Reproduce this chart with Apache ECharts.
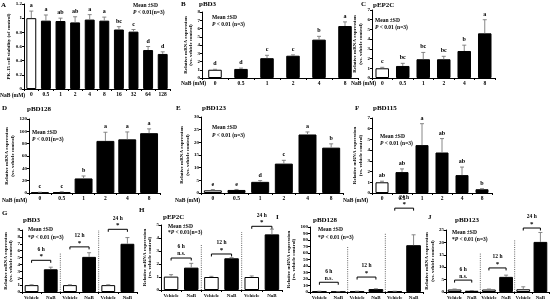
<!DOCTYPE html>
<html><head><meta charset="utf-8">
<script src="https://cdn.jsdelivr.net/npm/echarts/dist/echarts.min.js"></script>
<style>html,body{margin:0;padding:0;background:#fff}#c{width:550px;height:301px}</style>
</head><body><div id="c"></div>
<script>
// ---------- data ----------
const catsA = ['0','0.5','1','2','4','8','16','32','64','128'];
const valsA = [1.0, 0.965, 0.96, 0.94, 0.98, 0.965, 0.84, 0.81, 0.55, 0.495];
const errA  = [0.1, 0.08, 0.04, 0.08, 0.07, 0.05, 0.04, 0.03, 0.05, 0.03];
const sigA  = ['a','a','ab','ab','a','a','bc','c','d','d'];

const catsDose = ['0','0.5','1','2','4','8'];
const valsB = [1.0, 1.1, 2.4, 2.7, 4.65, 6.3];
const errB  = [0.05, 0.1, 0.35, 0.1, 0.4, 0.5];
const sigB  = ['d','d','c','c','b','a'];
const valsC = [1.0, 1.24, 1.93, 1.93, 2.78, 4.6];
const errC  = [0.1, 0.27, 0.7, 0.3, 0.6, 1.4];
const sigC  = ['c','bc','bc','bc','b','a'];
const valsD = [1.0, 1.5, 23.6, 84.5, 87, 97];
const errD  = [0.3, 0.5, 4, 14, 12, 7];
const sigD  = ['c','c','b','a','a','a'];
const valsE = [1.05, 1.2, 4.4, 11.6, 23.1, 17.9];
const errE  = [0.3, 0.2, 0.5, 1.3, 1.0, 1.5];
const sigE  = ['e','e','d','c','a','b'];
const valsF = [1.0, 1.95, 4.47, 3.78, 1.67, 0.35];
const errF  = [0.1, 0.3, 2.0, 1.3, 0.75, 0.05];
const sigF  = ['ab','ab','a','ab','ab','b'];

const catsTime = ['Vehicle','NaB','Vehicle','NaB','Vehicle','NaB'];
const valsG = [1.0, 3.3, 1.0, 5.1, 1.0, 7.0];
const errG  = [0.05, 0.3, 0.05, 0.6, 0.05, 0.9];
const valsH = [1.03, 1.72, 1.0, 2.44, 1.0, 4.28];
const errH  = [0.15, 0.33, 0.05, 0.05, 0.08, 0.4];
const valsI = [1.0, 0.5, 1.0, 4.5, 1.0, 72];
const errI  = [0.2, 0.1, 0.2, 0.5, 0.2, 16];
const valsJ = [1.0, 0.5, 1.0, 6.1, 1.1, 20.2];
const errJ  = [0.2, 0.1, 0.2, 0.7, 1.0, 3.8];

const timeLabels = ['6 h','12 h','24 h'];
const pairSpans  = [[0,1],[2,3],[4,5]];
const sigG = ['*','*','*'];
const sigH = ['n.s.','*','*'];
const sigI = ['n.s.','*','*'];
const sigJ = ['n.s.','*','*'];
// bracket heights and dotted separator tops, in data units
const bracketG = [4.6, 6.55, 9.1];
const bracketH = [2.46, 2.77, 4.9];
const bracketI = [15, 23, 129];
const bracketJ = [4.8, 9.7, 25.8];
const sepG = [5.7, 9.0];
const sepH = [3.46, 4.46];
const sepI = [70, 91];
const sepJ = [15.7, 21];

// ---------- layout / style ----------
const F = 'Liberation Serif';
const YT = 'Relative mRNA expression\n(vs. vehicle control)';
const panels = [
  {cats:catsA, vals:valsA, errs:errA, sig:sigA, grid:{left:24,top:4,width:146,height:85}, max:1.2, iv:0.2, bw:'68%', ctrl:[0], yname:'PK-15 cell viability (of control)', gap:12, cf:5.5},
  {cats:catsDose, vals:valsB, errs:errB, sig:sigB, grid:{left:202,top:12,width:156,height:66}, max:8, iv:1, bw:'52%', ctrl:[0], yname:YT, gap:7, cf:5.5},
  {cats:catsDose, vals:valsC, errs:errC, sig:sigC, grid:{left:372,top:10,width:123,height:68}, max:7, iv:1, bw:'66%', ctrl:[0], yname:YT, gap:9, cf:5.5},
  {cats:catsDose, vals:valsD, errs:errD, sig:sigD, grid:{left:29,top:119,width:131,height:74}, max:120, iv:20, bw:'82%', ctrl:[0], yname:YT, gap:14, cf:5.5},
  {cats:catsDose, vals:valsE, errs:errE, sig:sigE, grid:{left:201,top:117,width:142,height:76}, max:30, iv:5, bw:'76%', ctrl:[0], yname:YT, gap:10, cf:5.5},
  {cats:catsDose, vals:valsF, errs:errF, sig:sigF, grid:{left:372,top:118,width:120,height:75}, max:7, iv:1, bw:'65%', ctrl:[0], yname:YT, gap:9, cf:5.5},
  {cats:catsTime, vals:valsG, errs:errG, grid:{left:22,top:230,width:115,height:62}, max:9, iv:1, bw:'72%', ctrl:[0,2,4], yname:YT, gap:8, cf:5,
    br:bracketG, bs:sigG, sep:sepG},
  {cats:catsTime, vals:valsH, errs:errH, grid:{left:161,top:225,width:121,height:65}, max:5, iv:1, bw:'72%', ctrl:[0,2,4], yname:YT, gap:5, cf:5,
    br:bracketH, bs:sigH, sep:sepH},
  {cats:catsTime, vals:valsI, errs:errI, grid:{left:310,top:227,width:113,height:65}, max:100, iv:10, bw:'78%', ctrl:[0,2,4], yname:YT, gap:9, cf:5,
    br:bracketI, bs:sigI, sep:sepI},
  {cats:catsTime, vals:valsJ, errs:errJ, grid:{left:446,top:230,width:103,height:62}, max:25, iv:5, bw:'80%', ctrl:[0,2,4], yname:YT, gap:8, cf:5,
    br:bracketJ, bs:sigJ, sep:sepJ}
];

const grids=[], xAxes=[], yAxes=[], series=[];
panels.forEach((p,i)=>{
  grids.push(Object.assign({outerBoundsMode:'none', containLabel:false}, p.grid));
  xAxes.push({type:'category', gridIndex:i, data:p.cats,
    axisLine:{lineStyle:{color:'#000', width:1}},
    axisTick:{show:true, length:2, lineStyle:{color:'#000', width:1}},
    axisLabel:{interval:0, fontFamily:F, fontWeight:'bold', fontSize:p.cf, color:'#000', margin:3}});
  yAxes.push({type:'value', gridIndex:i, min:0, max:p.max, interval:p.iv,
    axisLine:{show:true, lineStyle:{color:'#000', width:1}},
    axisTick:{show:true, length:2, lineStyle:{color:'#000', width:1}},
    splitLine:{show:false},
    axisLabel:{fontFamily:F, fontWeight:'bold', fontSize:5, color:'#000', margin:2},
    name:p.yname, nameLocation:'middle', nameRotate:90, nameGap:p.gap,
    nameTextStyle:{fontFamily:F, fontWeight:'bold', fontSize:5, color:'#000', lineHeight:5.5}});
  series.push({type:'bar', xAxisIndex:i, yAxisIndex:i, barWidth:p.bw, silent:true,
    data:p.vals.map((v,j)=>({value:v, itemStyle: p.ctrl.includes(j)
      ? {color:'#fff', borderColor:'#000', borderWidth:1}
      : {color:'#000', borderColor:'#000', borderWidth:1}}))});
  const sig = p.sig;
  series.push({type:'custom', xAxisIndex:i, yAxisIndex:i, silent:true, z:5,
    data:p.vals.map((v,j)=>[j, v, p.errs[j]]),
    renderItem(params, api){
      const j=api.value(0), v=api.value(1), e=api.value(2);
      const a=api.coord([j,v]), b=api.coord([j,v+e]);
      const ch=[
        {type:'line', shape:{x1:a[0],y1:a[1],x2:b[0],y2:b[1]}, style:{stroke:'#7a7a7a', lineWidth:0.9}},
        {type:'line', shape:{x1:b[0]-2,y1:b[1],x2:b[0]+2,y2:b[1]}, style:{stroke:'#7a7a7a', lineWidth:0.9}}
      ];
      if (sig && sig[params.dataIndex]) ch.push({type:'text', x:b[0], y:b[1]-5.5,
        style:{text:sig[params.dataIndex], fontFamily:F, fontWeight:'bold', fontSize:6, fill:'#000', align:'center', verticalAlign:'middle'}});
      return {type:'group', children:ch};
    }});
  if (p.br) {
    const bs=p.bs;
    series.push({type:'custom', xAxisIndex:i, yAxisIndex:i, silent:true, z:6,
      data:pairSpans.map((s,k)=>[s[0], p.br[k], s[1]]),
      renderItem(params, api){
        const k=params.dataIndex;
        const p0=api.coord([api.value(0), api.value(1)]), p1=api.coord([api.value(2), api.value(1)]);
        const mx=(p0[0]+p1[0])/2, y=p0[1];
        return {type:'group', children:[
          {type:'polyline', shape:{points:[[p0[0],y+2.5],[p0[0],y],[p1[0],y],[p1[0],y+2.5]]}, style:{stroke:'#000', lineWidth:1, fill:null}},
          {type:'text', x:mx, y:y-4, style:{text:bs[k], fontFamily:F, fontWeight:'bold', fontSize:bs[k]==='*'?7:5.5, fill:'#000', align:'center', verticalAlign:'middle'}},
          {type:'text', x:mx, y:y-11, style:{text:timeLabels[k], fontFamily:F, fontWeight:'bold', fontSize:5.5, fill:'#000', align:'center', verticalAlign:'middle'}}
        ]};
      }});
    series.push({type:'custom', xAxisIndex:i, yAxisIndex:i, silent:true, z:4,
      data:p.sep.map((t,k)=>[2*k+1, t]),
      renderItem(params, api){
        const idx=api.value(0);
        const xa=api.coord([idx,0]), xb=api.coord([idx+1,0]);
        const x=(xa[0]+xb[0])/2, top=api.coord([idx, api.value(1)])[1];
        return {type:'line', shape:{x1:x,y1:xa[1],x2:x,y2:top}, style:{stroke:'#666', lineWidth:1, lineDash:[1,1.2]}};
      }});
  }
});

// ---------- texts ----------
const txt=(t,x,y,size,extra)=>Object.assign({type:'text', x, y, silent:true, style:Object.assign({text:t, fontFamily:F, fontWeight:'bold', fontSize:size, fill:'#000', align:'left', verticalAlign:'middle'}, extra||{})});
const rich={i:{fontStyle:'italic', fontWeight:'bold', fontFamily:F, fontSize:5.5, fill:'#000'}};
const g=[];
[['A',1,5],['B',181,4],['C',361,4],['D',2,108],['E',176,108],['F',355,108],['G',2,213],['H',139,210],['I',276,217],['J',428,217]]
  .forEach(a=>g.push(txt(a[0],a[1],a[2],7)));
[['pBD3',199,4],['pEP2C',373,5],['pBD128',27,109],['pBD123',202,108],['pBD115',373,108],['pBD3',23,220],['pEP2C',163,217],['pBD128',313,220],['pBD123',455,220]]
  .forEach(a=>g.push(txt(a[0],a[1],a[2],7)));
[[133,6,13,'{i|P} < 0.01(n=3)'],[212,18,25,'{i|P} < 0.01 (n=3)'],[375,21,28,'{i|P} < 0.01 (n=3)'],[32,133,140,'{i|P} < 0.01(n=3)'],[212,128,136,'{i|P} < 0.01 (n=3)'],[380,137,144,'{i|P} < 0.01 (n=3)'],
 [28,230,238,'*{i|P} < 0.01 (n=3)'],[168,227,233,'*{i|P} < 0.01(n=3)'],[318,230,238,'*{i|P} < 0.01 (n=3)'],[452,233,240,'*{i|P} < 0.01 (n=3)']]
  .forEach(a=>{g.push(txt('Mean \u00b1SD',a[0],a[1],5.5)); g.push(txt(a[3],a[0],a[2],5.5,{rich}));});
[[0,96],[181,84],[351,84],[2,201],[175,201],[343,201]].forEach(a=>g.push(txt('NaB (mM)',a[0],a[1],5.5)));

const chart=echarts.init(document.getElementById('c'), null, {renderer:'canvas'});
chart.setOption({animation:false, backgroundColor:'#fff', grid:grids, xAxis:xAxes, yAxis:yAxes, series, graphic:{elements:g}});
</script></body></html>
